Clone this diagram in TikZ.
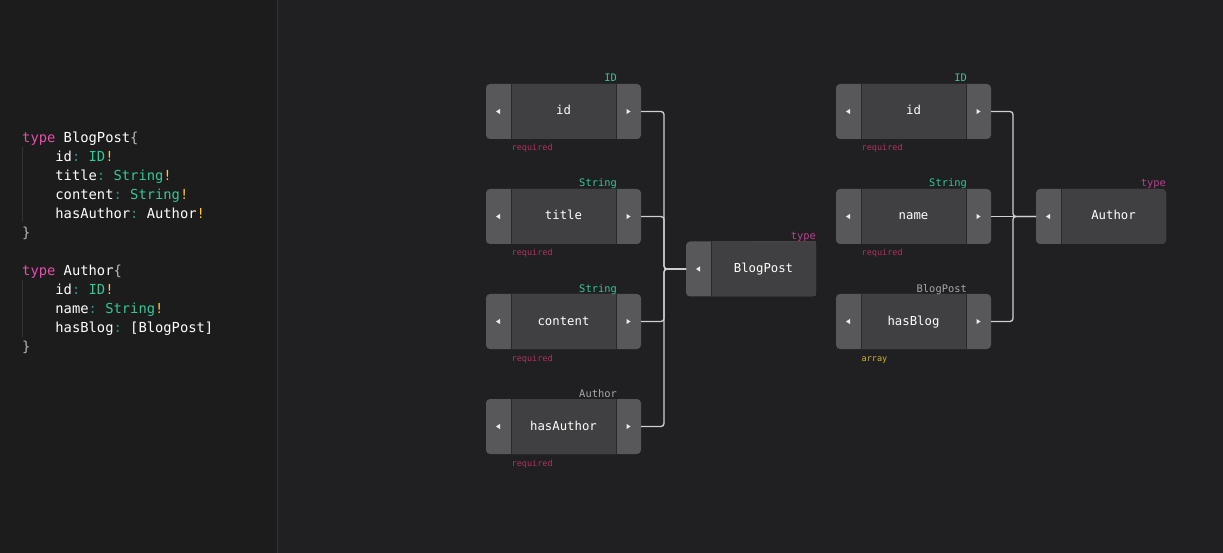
\documentclass[tikz,border=0pt]{standalone}
\usepackage{fontspec}
\setmonofont{DejaVu Sans Mono}
\usetikzlibrary{positioning,calc}
\definecolor{panelbg}{HTML}{201F21}
\definecolor{codebg}{HTML}{1C1C1D}
\definecolor{panelrule}{HTML}{323234}
\definecolor{tabgray}{HTML}{585759}
\definecolor{bodygray}{HTML}{403F41}
\definecolor{dividergray}{HTML}{29282A}
\definecolor{linkgray}{HTML}{D0D0D0}
\definecolor{glyphwhite}{HTML}{ECECEC}
\definecolor{idgreen}{HTML}{35C796}
\definecolor{typepink}{HTML}{B8418F}
\definecolor{reqred}{HTML}{B03263}
\definecolor{arrayyellow}{HTML}{D4B733}
\definecolor{refgray}{HTML}{A8A8A8}
\definecolor{kwpink}{HTML}{E44FA8}
\definecolor{bangyellow}{HTML}{FFC83D}
\definecolor{colonteal}{HTML}{2F8F88}
\definecolor{bracegray}{HTML}{B8B8B8}
\newcommand{\KwType}{\textcolor{kwpink}{type}}
\newcommand{\TyName}[1]{\textcolor{idgreen}{#1}}
\newcommand{\Bang}{\textcolor{bangyellow}{!}}
\newcommand{\Colon}{\textcolor{colonteal}{:}}
\newcommand{\Indent}{\phantom{xxxx}}
\tikzset{/graph/field/.style={
	shape=rectangle, rounded corners=4, fill=tabgray, inner sep=0, outer sep=0, minimum width=155, minimum height=55, text=white, text height=9.5, text depth=2.5, font=\ttfamily\fontsize{12.3}{14}\selectfont,
	path picture={
		\fill[bodygray, sharp corners] ([xshift=25]path picture bounding box.north west) rectangle ([xshift=-24.5]path picture bounding box.south east);
		\draw[dividergray, line width=.9, sharp corners] ([xshift=25]path picture bounding box.north west) -- ([xshift=25]path picture bounding box.south west);
		\draw[dividergray, line width=.9, sharp corners] ([xshift=-24.5]path picture bounding box.north east) -- ([xshift=-24.5]path picture bounding box.south east);
		\fill[glyphwhite, sharp corners] ([xshift=10]path picture bounding box.west) -- ++(4,-2.6) -- ++(0,5.2) -- cycle;
		\fill[glyphwhite, sharp corners] ([xshift=-10.5]path picture bounding box.east) -- ++(-4,-2.6) -- ++(0,5.2) -- cycle;
	}
}}
\tikzset{/graph/type/.style={
	shape=rectangle, rounded corners=4, fill=tabgray, inner sep=0, outer sep=0, minimum width=130, minimum height=55, text=white, text height=9.5, text depth=2.5, font=\ttfamily\fontsize{12.3}{14}\selectfont, execute at begin node=\hspace*{25pt},
	path picture={
		\fill[bodygray, sharp corners] ([xshift=25]path picture bounding box.north west) rectangle (path picture bounding box.south east);
		\draw[dividergray, line width=.9, sharp corners] ([xshift=25]path picture bounding box.north west) -- ([xshift=25]path picture bounding box.south west);
		\fill[glyphwhite, sharp corners] ([xshift=10]path picture bounding box.west) -- ++(4,-2.6) -- ++(0,5.2) -- cycle;
	}
}}
\tikzset{/graph/tag/.style={inner sep=0, font=\ttfamily\fontsize{10.4}{12}\selectfont}}
\tikzset{/graph/note/.style={inner sep=0, font=\ttfamily\fontsize{8.5}{10}\selectfont}}
\tikzset{/graph/link/.style={draw=linkgray, line width=1.3, rounded corners=3}}
\tikzset{/code/block/.style={inner sep=0, anchor=base west, align=left, text=white, font=\ttfamily\fontsize{13.8}{19}\selectfont}}
\begin{document}
\begin{tikzpicture}[x=1pt, y=-1pt]
	\fill[panelbg] (0,0) rectangle (1223,552);
	\fill[codebg] (0,0) rectangle (277,552);
	\draw[panelrule, line width=1] (277.5,0) -- (277.5,552);
	\useasboundingbox (0,0) rectangle (1223,552);
	% code
	\draw[panelrule, line width=.8] (22,147) -- (22,222);
	\draw[panelrule, line width=.8] (22,280) -- (22,336);
	\path node[/code/block] (Code) at (22,351) {\KwType{} BlogPost\textcolor{bracegray}{\{}\\
		\Indent id\Colon{} \TyName{ID}\Bang\\
		\Indent title\Colon{} \TyName{String}\Bang\\
		\Indent content\Colon{} \TyName{String}\Bang\\
		\Indent hasAuthor\Colon{} Author\Bang\\
		\textcolor{bracegray}{\}}\\[19pt]
		\KwType{} Author\textcolor{bracegray}{\{}\\
		\Indent id\Colon{} \TyName{ID}\Bang\\
		\Indent name\Colon{} \TyName{String}\Bang\\
		\Indent hasBlog\Colon{} [BlogPost]\\
		\textcolor{bracegray}{\}}};
	% BlogPost fields
	\path node[/graph/field] (IdA) at (563.5,111) {id};
	\path (IdA.south) ++(0,50) node[/graph/field, anchor=north] (TitleA) {title};
	\path (TitleA.south) ++(0,50) node[/graph/field, anchor=north] (ContentA) {content};
	\path (ContentA.south) ++(0,50) node[/graph/field, anchor=north] (HasAuthor) {hasAuthor};
	\fill[bodygray] (751,241) rectangle (816,296);
	\path (TitleA.south east) ++(45,25) node[/graph/type, anchor=west] (BlogPost) {BlogPost};
	% Author fields
	\path node[/graph/field] (IdB) at (913.5,111) {id};
	\path (IdB.south) ++(0,50) node[/graph/field, anchor=north] (NameB) {name};
	\path (NameB.south) ++(0,50) node[/graph/field, anchor=north] (HasBlog) {hasBlog};
	\path (NameB.east) ++(45,0) node[/graph/type, anchor=west] (Author) {Author};
	% tags
	\path (IdA.north east) ++(-24,-2) node[/graph/tag, anchor=base east, text=idgreen] (IdAKind) {ID};
	\path (TitleA.north east) ++(-24,-2) node[/graph/tag, anchor=base east, text=idgreen] (TitleKind) {String};
	\path (ContentA.north east) ++(-24,-2) node[/graph/tag, anchor=base east, text=idgreen] (ContentKind) {String};
	\path (HasAuthor.north east) ++(-24,-2) node[/graph/tag, anchor=base east, text=refgray] (HasAuthorKind) {Author};
	\path (BlogPost.north east) ++(0,-2) node[/graph/tag, anchor=base east, text=typepink] (BlogPostKind) {type};
	\path (IdB.north east) ++(-24,-2) node[/graph/tag, anchor=base east, text=idgreen] (IdBKind) {ID};
	\path (NameB.north east) ++(-24,-2) node[/graph/tag, anchor=base east, text=idgreen] (NameKind) {String};
	\path (HasBlog.north east) ++(-24,-2) node[/graph/tag, anchor=base east, text=refgray] (HasBlogKind) {BlogPost};
	\path (Author.north east) ++(0,-2) node[/graph/tag, anchor=base east, text=typepink] (AuthorKind) {type};
	\path (IdA.south west) ++(25.5,12) node[/graph/note, anchor=base west, text=reqred] (IdAReq) {required};
	\path (TitleA.south west) ++(25.5,12) node[/graph/note, anchor=base west, text=reqred] (TitleReq) {required};
	\path (ContentA.south west) ++(25.5,12) node[/graph/note, anchor=base west, text=reqred] (ContentReq) {required};
	\path (HasAuthor.south west) ++(25.5,12) node[/graph/note, anchor=base west, text=reqred] (HasAuthorReq) {required};
	\path (IdB.south west) ++(25.5,12) node[/graph/note, anchor=base west, text=reqred] (IdBReq) {required};
	\path (NameB.south west) ++(25.5,12) node[/graph/note, anchor=base west, text=reqred] (NameReq) {required};
	\path (HasBlog.south west) ++(25.5,12) node[/graph/note, anchor=base west, text=arrayyellow] (HasBlogArr) {array};
	% links
	\path[/graph/link] (IdA.east) -- ++(23,0) |- (BlogPost.west);
	\path[/graph/link] (TitleA.east) -- ++(23,0) |- (BlogPost.west);
	\path[/graph/link] (ContentA.east) -- ++(23,0) |- (BlogPost.west);
	\path[/graph/link] (HasAuthor.east) -- ++(23,0) |- (BlogPost.west);
	\path[/graph/link] (IdB.east) -- ++(22,0) |- (Author.west);
	\path[/graph/link] (NameB.east) -- (Author.west);
	\path[/graph/link] (HasBlog.east) -- ++(22,0) |- (Author.west);
\end{tikzpicture}
\end{document}
